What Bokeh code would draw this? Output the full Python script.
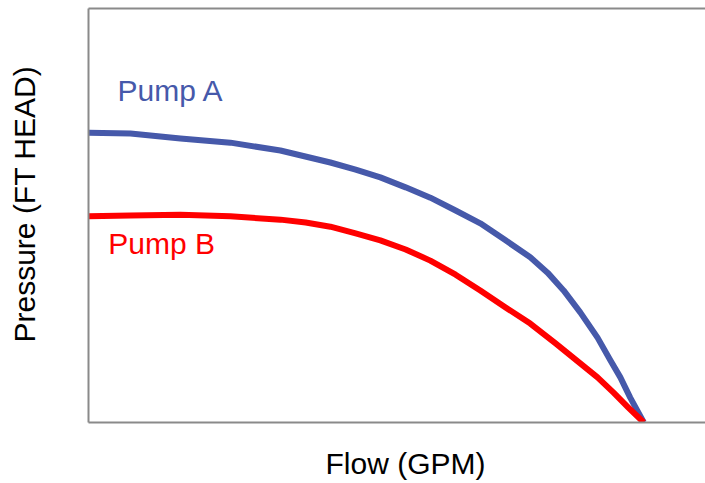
from bokeh.plotting import figure
from bokeh.models import LinearAxis, FixedTicker, Range1d, Label, Title
from bokeh.embed import file_html
from bokeh.resources import INLINE

# Pump curves (relative units)
flow_a = [0, 6.8, 14.9, 23.0, 31.1, 39.2, 43.3, 47.3, 51.4, 55.4, 59.5, 63.5,
          67.6, 71.6, 74.4, 77.0, 79.7, 82.5, 84.6, 86.2, 87.8, 90.0]
head_a = [70.0, 69.8, 68.6, 67.6, 65.7, 62.8, 61.1, 59.2, 56.8, 54.3, 51.2, 48.1,
          44.0, 39.9, 36.2, 31.9, 26.6, 20.5, 15.0, 10.9, 6.0, 0.0]
flow_b = [0, 6.8, 14.9, 23.0, 31.1, 35.2, 39.2, 43.3, 47.3, 51.4, 55.4, 59.5,
          63.5, 67.6, 71.6, 75.7, 79.7, 82.5, 85.1, 87.5, 90.0]
head_b = [49.8, 50.0, 50.2, 49.8, 49.0, 48.3, 47.3, 45.7, 44.0, 41.8, 39.1, 35.7,
          31.9, 27.8, 23.9, 19.1, 14.3, 10.9, 7.2, 3.6, 0.0]
series_names = ["Pump A", "Pump B"]
x_title = "Flow (GPM)"
y_title = "Pressure (FT HEAD)"

FONT = "Liberation Sans"
BLUE = "#4659aa"
RED = "#ff0000"
GRAY = "#8a8a8a"

p = figure(width=705, height=483, output_backend="svg", toolbar_location=None,
           x_range=Range1d(0, 100), y_range=Range1d(0, 100),
           min_border_left=88, min_border_right=0, min_border_top=8, min_border_bottom=61,
           x_axis_location=None, y_axis_location=None)
p.outline_line_color = None
p.grid.visible = False

def style_axis(ax, gap=0):
    # an invisible tick (no line, empty label) whose length reserves space for the title
    if gap > 0:
        ax.ticker = FixedTicker(ticks=[50])
        ax.major_label_overrides = {50: ""}
    else:
        ax.ticker = FixedTicker(ticks=[])
    ax.major_tick_line_color = None
    ax.minor_tick_line_color = None
    ax.major_tick_out = gap
    ax.major_tick_in = 0
    ax.major_label_standoff = 0
    ax.major_label_text_font_size = "0px"
    ax.axis_line_color = GRAY
    ax.axis_line_width = 2

ax_left = LinearAxis(); style_axis(ax_left, 48); p.add_layout(ax_left, "left")
ax_below = LinearAxis(); style_axis(ax_below, 24); p.add_layout(ax_below, "below")
ax_above = LinearAxis(); style_axis(ax_above, 0); p.add_layout(ax_above, "above")

p.line(flow_a, head_a, line_color=BLUE, line_width=6, line_join="round")
p.line(flow_b, head_b, line_color=RED, line_width=6, line_join="round")

p.add_layout(Label(x=4.7, y=80.2, text=series_names[0], text_color=BLUE,
                   text_font=FONT, text_font_size="30px", text_baseline="alphabetic"))
p.add_layout(Label(x=3.2, y=43.2, text=series_names[1], text_color=RED,
                   text_font=FONT, text_font_size="30px", text_baseline="alphabetic"))

# axis titles
p.add_layout(Title(text=x_title, align="left", offset=237, standoff=0, vertical_align="top",
                   text_font=FONT, text_font_size="30px", text_font_style="normal",
                   text_color="#000000"), "below")
p.add_layout(Title(text=y_title, align="left", offset=80, standoff=0, vertical_align="bottom",
                   text_font=FONT, text_font_size="30px", text_font_style="normal",
                   text_color="#000000"), "left")

open("out.html", "w").write(file_html(p, INLINE))
